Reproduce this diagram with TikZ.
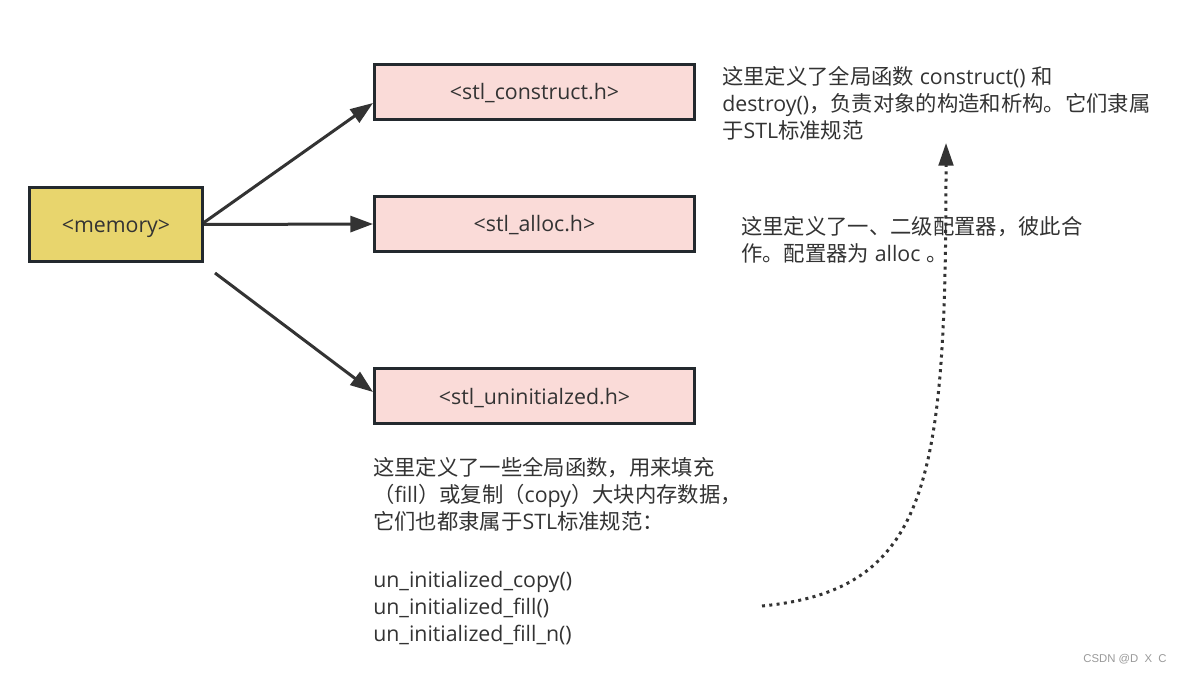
\documentclass[tikz,border=0pt]{standalone}
\usepackage{fontspec}
\setmainfont{Open Sans}
\newfontfamily\cjk{Noto Sans CJK SC}
\newfontfamily\wmfont{Liberation Sans}
\usetikzlibrary{arrows.meta}
\newcommand\zh[1]{{\cjk #1}}
\definecolor{boxline}{HTML}{23292E}
\definecolor{yellowfill}{HTML}{E8D56D}
\definecolor{pinkfill}{HTML}{FADBD8}
\definecolor{ink}{HTML}{333333}
\definecolor{wm}{HTML}{9A9A9A}
\tikzset{
  box/.style={draw=boxline, line width=2.25pt, inner sep=0pt, text=ink,
    font=\fontsize{16}{20}\selectfont, text height=14pt, text depth=2pt},
  membox/.style={box, fill=yellowfill, minimum width=129.75pt, minimum height=55.5pt},
  hbox/.style={box, fill=pinkfill, minimum width=240pt, minimum height=41.25pt},
  arr/.style={draw=ink, line width=2.25pt, -{Triangle[length=17pt,width=12pt]}},
  dotarr/.style={draw=ink, line width=2.25pt, dash pattern=on 2.25pt off 3.25pt,
    -{Triangle[length=17pt,width=11pt]}},
  note/.style={anchor=north west, inner sep=0pt, align=left, text=ink,
    font=\fontsize{16}{20.25}\selectfont},
}
\begin{document}
\begin{tikzpicture}[x=0.75pt,y=-0.75pt]
\useasboundingbox (0,0) rectangle (1184,673);
\fill[white] (0,0) rectangle (1184,673);

\node[membox] (mem) at (116,224.5) {<memory>};
\node[hbox] (con) at (534.5,92) {<stl\_construct.h>};
\node[hbox] (all) at (534.5,224) {<stl\_alloc.h>};
\node[hbox] (uni) at (534.5,396) {<stl\_uninitialzed.h>};

\coordinate (m3) at (215,273);
\draw[arr] ([yshift=1.5pt]mem.east) -- ([yshift=-8.25pt]con.west);
\draw[arr] (mem.east) -- (all.west);
\draw[arr] (m3) -- ([yshift=3pt]uni.west);

\node[note] (tcon) at (722,66) {\zh{这里定义了全局函数} construct() \zh{和}\\
destroy()\zh{，负责对象的构造和析构。它们隶属}\\
\zh{于}STL\zh{标准规范}};

\node[note] (tall) at (741,216) {\zh{这里定义了一、二级配置器，彼此合}\\
\zh{作。配置器为} alloc \zh{。}};

\node[note] (tuni) at (373,457) {\zh{这里定义了一些全局函数，用来填充}\\
\zh{（}fill\zh{）或复制（}copy\zh{）大块内存数据，}\\
\zh{它们也都隶属于}STL\zh{标准规范：}\\[23.25pt]
un\_initialized\_copy()\\
un\_initialized\_fill()\\
un\_initialized\_fill\_n()};

\coordinate (ds) at (762,606);
\coordinate (de) at (946,143);
\draw[dotarr] (ds) .. controls (930,590) and (946,480) .. (de);

\node[text=wm, font=\wmfont\fontsize{8.5}{10}\selectfont, inner sep=0pt] (wmk) at (1125,659) {CSDN @D\ \ X\ \ C};
\end{tikzpicture}
\end{document}
